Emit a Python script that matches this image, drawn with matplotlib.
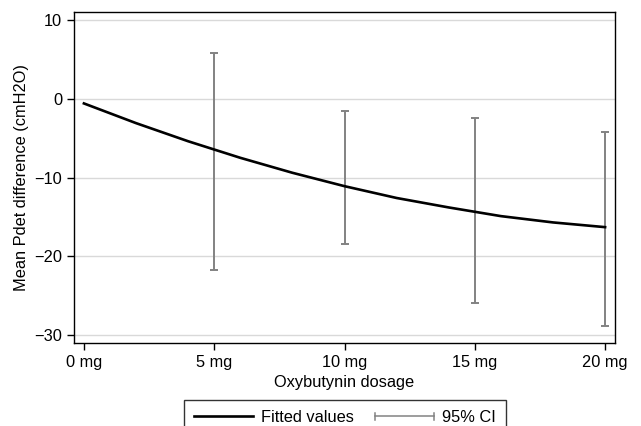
import numpy as np
import matplotlib.pyplot as plt
from matplotlib.lines import Line2D
from matplotlib.legend_handler import HandlerBase

plt.rcParams['font.family'] = ['Liberation Sans', 'DejaVu Sans']

# dose (mg) and 95% CI
doses = [5, 10, 15, 20]
ci_low = [-21.8, -18.4, -25.9, -28.8]
ci_high = [5.8, -1.6, -2.4, -4.2]

# fitted curve, read at every 2 mg
fit_x = [0, 2, 4, 6, 8, 10, 12, 14, 16, 18, 20]
fit_y = [-0.6, -3.1, -5.4, -7.5, -9.4, -11.1, -12.6, -13.8, -14.9, -15.7, -16.3]

xticks = [0, 5, 10, 15, 20]
xlabels = ['0 mg', '5 mg', '10 mg', '15 mg', '20 mg']
yticks = [-30, -20, -10, 0, 10]

ci_color = '#828282'
fs = 11.8


# legend glyph for the CI: horizontal line with caps at both ends
class HandlerCI(HandlerBase):
    def create_artists(self, legend, orig_handle, xdescent, ydescent,
                       width, height, fontsize, trans):
        y = height / 2 - ydescent
        x0, x1 = -xdescent, width - xdescent
        line = Line2D([x0, x1], [y, y], color=ci_color, lw=1.1, transform=trans)
        c = height * 0.3
        cap1 = Line2D([x0, x0], [y - c, y + c], color=ci_color, lw=1.1, transform=trans)
        cap2 = Line2D([x1, x1], [y - c, y + c], color=ci_color, lw=1.1, transform=trans)
        return [line, cap1, cap2]


fig = plt.figure(figsize=(6.41, 4.26), dpi=100)
ax = fig.add_axes([74 / 641, 1 - 343 / 426, 541 / 641, 331 / 426])

ax.grid(True, axis='y', color='#d9d9d9', linewidth=1)
ax.set_axisbelow(True)

centers = [(lo + hi) / 2 for lo, hi in zip(ci_low, ci_high)]
half = [(hi - lo) / 2 for lo, hi in zip(ci_low, ci_high)]
ax.errorbar(doses, centers, yerr=half, fmt='none', ecolor=ci_color,
            elinewidth=1.4, capsize=3, capthick=1.4)

fit_line, = ax.plot(fit_x, fit_y, color='black', lw=1.9,
                    solid_joinstyle='round')

ax.set_xlim(-0.38, 20.38)
ax.set_ylim(-31.0, 11.0)
ax.set_xticks(xticks)
ax.set_xticklabels(xlabels)
ax.set_yticks(yticks)
ax.set_yticklabels(['\u221230', '\u221220', '\u221210', '0', '10'])
ax.tick_params(labelsize=fs, length=5, width=1, color='black', direction='out')
for s in ax.spines.values():
    s.set_linewidth(1.0)

ax.set_xlabel('Oxybutynin dosage', fontsize=fs, labelpad=3.5)
ax.set_ylabel('Mean Pdet difference (cmH2O)', fontsize=fs, labelpad=4)

ci_dummy = object()
leg = fig.legend([fit_line, ci_dummy], ['Fitted values', '95% CI'],
                 handler_map={ci_dummy: HandlerCI()},
                 loc='upper center', bbox_to_anchor=(345 / 641, 1 - 400 / 426),
                 ncol=2, frameon=True, fancybox=False, edgecolor='black',
                 fontsize=fs, handlelength=3.6, columnspacing=1.3,
                 borderpad=0.6, handletextpad=0.5, borderaxespad=0)
leg.get_frame().set_linewidth(1.0)

fig.savefig('out.png', dpi=100)
